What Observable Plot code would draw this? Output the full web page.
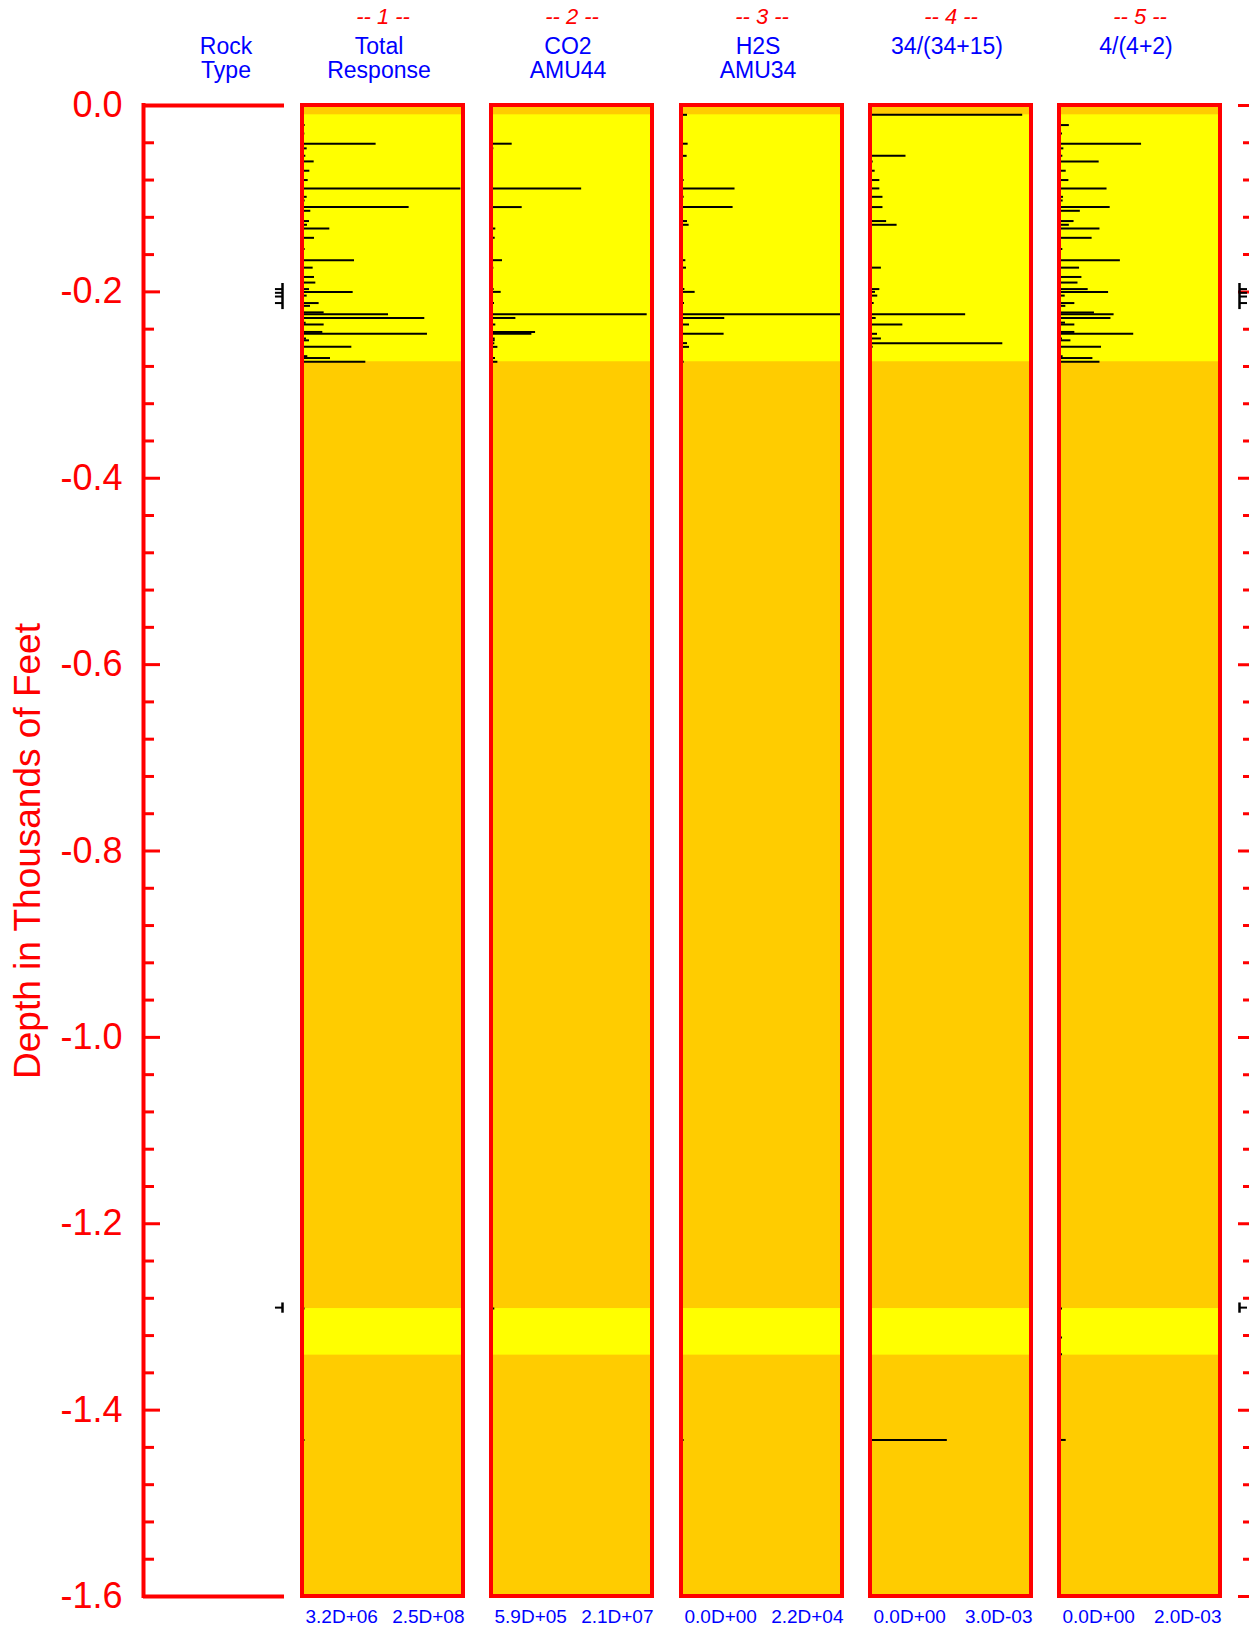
<!DOCTYPE html>
<html><head><meta charset="utf-8">
<script src="https://cdn.jsdelivr.net/npm/d3@7"></script>
<script src="https://cdn.jsdelivr.net/npm/@observablehq/plot@0.6"></script>
<style>
body{margin:0;background:#fff;overflow:hidden}
#chart{position:relative;width:1249px;height:1629px;overflow:hidden;font-family:"Liberation Sans",Arial,sans-serif}
#chart svg{position:absolute;top:0;overflow:visible}
</style></head><body><div id="chart"></div>
<script>
// ---- data ----
const depthFt = [10,21,30,41,46,54,60,70,80,89,98,102,109,113,124,128,132,142,154,166,174,184,190,197,200,204,212,215,222,224,228,233,235,243,245,250,252,255,259,269,271,275,1291,1322,1340,1432];

const totalResponse = [null,4.2e6,3.7e6,1.158e8,7.4e6,5.3e6,1.84e7,1.16e7,9.0e6,2.49e8,7.4e6,4.2e6,1.677e8,1.31e7,1.11e7,7.9e6,4.3e7,1.89e7,4.2e6,8.18e7,1.68e7,1.89e7,2.1e7,1.11e7,7.97e7,7.4e6,2.62e7,1.26e7,3.41e7,1.353e8,1.923e8,5.8e6,3.41e7,3.2e7,1.965e8,6.3e6,1.11e7,null,7.76e7,8.4e6,4.41e7,9.96e7,4.0e6,null,null,4.0e6];
const co2Amu44 = [null,null,null,3.02e6,6.3e5,null,null,null,null,1.205e7,null,null,4.32e6,null,null,null,8.9e5,8.1e5,null,1.76e6,6.3e5,null,null,6.7e5,1.59e6,null,7.2e5,null,null,2.057e7,3.50e6,null,8.9e5,6.06e6,5.58e6,8.1e5,8.1e5,7.6e5,1.16e6,null,8.5e5,1.16e6,7.6e5,null,null,null];
const h2sAmu34 = [560,null,null,650,null,510,null,null,90,7220,90,null,6950,null,560,790,null,null,null,330,420,null,null,190,1630,null,140,null,null,22000,5780,null,840,null,5690,null,null,560,840,null,null,90,null,null,null,90];
const ratio34 = [2.87e-3,null,null,null,null,6.4e-4,1.3e-5,5.1e-5,1.4e-4,1.4e-4,2.0e-4,null,2.0e-4,null,2.7e-4,4.7e-4,null,null,null,null,1.7e-4,null,null,1.4e-4,5.7e-5,1.0e-4,3.2e-5,null,null,1.78e-3,7.0e-5,null,5.8e-4,null,9.6e-5,1.7e-4,null,2.49e-3,1.3e-5,null,null,null,null,null,null,1.43e-3];
const ratio4 = [null,1.0e-4,1.3e-5,1.02e-3,3.0e-5,1.7e-5,4.8e-4,6.0e-5,9.4e-5,5.8e-4,2.6e-5,2.1e-5,6.2e-4,2.4e-4,1.6e-4,1.0e-4,4.9e-4,3.9e-4,1.7e-5,7.5e-4,2.3e-4,2.6e-4,2.1e-4,3.4e-4,6.0e-4,4.7e-5,1.7e-4,5.5e-5,4.2e-4,6.7e-4,6.3e-4,5.1e-5,1.7e-4,1.7e-4,9.2e-4,1.3e-5,1.2e-4,null,5.1e-4,2.1e-5,4.0e-4,4.9e-4,1.3e-5,1.3e-5,1.3e-5,6.0e-5];

const trackNumbers = ["1","2","3","4","5"];
const trackLine1 = ["Total","CO2","H2S","34/(34+15)","4/(4+2)"];
const trackLine2 = ["Response","AMU44","AMU34","",""];
const trackMin = [3.2e6, 5.9e5, 0, 0, 0];
const trackMax = [2.5e8, 2.1e7, 2.2e4, 3.0e-3, 2.0e-3];
const minLabels = ["3.2D+06","5.9D+05","0.0D+00","0.0D+00","0.0D+00"];
const maxLabels = ["2.5D+08","2.1D+07","2.2D+04","3.0D-03","2.0D-03"];
const trackValues = [totalResponse, co2Amu44, h2sAmu34, ratio34, ratio4];

// lithology zones (ft): light (yellow) intervals inside orange background
const zoneTopFt = [10, 1291];
const zoneBottomFt = [275, 1341];
// rock type markers (ft)
const rockTickFt = [197, 201, 205, 212, 1290];
const rockSpanTopFt = [191, 1285];
const rockSpanBottomFt = [219, 1296];

const majorTicks = [0,-0.2,-0.4,-0.6,-0.8,-1.0,-1.2,-1.4,-1.6];
const depthTickLabels = ["0.0","-0.2","-0.4","-0.6","-0.8","-1.0","-1.2","-1.4","-1.6"];
const minorTicks = d3.range(0, 41).filter(i => i % 5 !== 0).map(i => -i * 0.04);

// ---- layout ----
const RED = "#ff0000", BLUE = "#0000ff", ORANGE = "#ffcc00", YELLOW = "#ffff00";
const H = 1629, MT = 105, MB = 33;
const FONT = '"Liberation Sans", Arial, sans-serif';
const yOpt = {domain: [-1.6, 0], axis: null};
const toY = ft => -ft / 1000;
const chart = document.getElementById("chart");
function place(svg, left) { svg.style.left = left + "px"; chart.appendChild(svg); }

// left depth axis + rock type column
const leftPlot = Plot.plot({
  width: 300, height: H, marginLeft: 143, marginRight: 16, marginTop: MT, marginBottom: MB,
  style: {fontFamily: FONT, background: "transparent", overflow: "visible"},
  x: {domain: [0, 1], axis: null}, y: yOpt,
  marks: [
    Plot.tickY(minorTicks, {y: d => d, stroke: RED, strokeWidth: 3, insetRight: 141 - 11}),
    Plot.tickY(majorTicks, {y: d => d, stroke: RED, strokeWidth: 3, insetRight: 141 - 17}),
    Plot.ruleY([0, -1.6], {x1: 0, x2: 1, stroke: RED, strokeWidth: 4}),
    Plot.ruleX([0], {y1: -1.6, y2: 0, stroke: RED, strokeWidth: 4, strokeLinecap: "square"}),
    Plot.text(depthTickLabels, {y: (d, i) => majorTicks[i], text: d => d, frameAnchor: "left", textAnchor: "end", dx: -21, fill: RED, fontSize: 36}),
    Plot.text(["Depth in Thousands of Feet"], {text: d => d, frameAnchor: "left", textAnchor: "middle", rotate: -90, dx: -115, fill: RED, fontSize: 37}),
    Plot.text(["Rock"], {text: d => d, frameAnchor: "top", dx: 12, dy: 46 - MT, lineAnchor: "middle", fill: BLUE, fontSize: 23}),
    Plot.text(["Type"], {text: d => d, frameAnchor: "top", dx: 12, dy: 70 - MT, lineAnchor: "middle", fill: BLUE, fontSize: 23}),
    Plot.ruleX(rockSpanTopFt, {x: 1, y1: d => toY(d), y2: (d, i) => toY(rockSpanBottomFt[i]), dx: -2, stroke: "black", strokeWidth: 2.5}),
    Plot.ruleY(rockTickFt, {y: d => toY(d), x1: 0.95, x2: 1, dx: -2, stroke: "black", strokeWidth: 2})
  ]
});
place(leftPlot, 0);

// five tracks
const innerLeft = [304, 493.3, 682.5, 871.8, 1061];
const innerW = 157, PAD = 20;
trackValues.forEach((vals, k) => {
  const idx = d3.range(depthFt.length).filter(i => vals[i] != null);
  const lo = trackMin[k], hi = trackMax[k];
  const p = Plot.plot({
    width: innerW + 2 * PAD, height: H, marginLeft: PAD, marginRight: PAD, marginTop: MT, marginBottom: MB,
    style: {fontFamily: FONT, background: "transparent", overflow: "visible"},
    x: {domain: [lo, hi], axis: null}, y: yOpt,
    marks: [
      Plot.rect([0], {x1: lo, x2: hi, y1: -1.6, y2: 0, fill: ORANGE, insetLeft: -2, insetRight: -2}),
      Plot.rect(zoneTopFt, {x1: lo, x2: hi, y1: d => toY(d), y2: (d, i) => toY(zoneBottomFt[i]), fill: YELLOW}),
      Plot.ruleY(idx, {y: i => toY(depthFt[i]), x1: lo, x2: i => vals[i], stroke: "black", strokeWidth: 2}),
      Plot.rect([0], {x1: lo, x2: hi, y1: -1.6, y2: 0, fill: "none", stroke: RED, strokeWidth: 4, insetLeft: -2, insetRight: -2}),
      Plot.text([trackNumbers[k]], {text: d => `-- ${d} --`, frameAnchor: "top", dy: 16 - MT, lineAnchor: "middle", fill: RED, fontSize: 22, fontStyle: "italic"}),
      Plot.text([trackLine1[k]], {text: d => d, frameAnchor: "top", dx: -4, dy: 46 - MT, lineAnchor: "middle", fill: BLUE, fontSize: 23}),
      Plot.text([trackLine2[k]], {text: d => d, frameAnchor: "top", dx: -4, dy: 70 - MT, lineAnchor: "middle", fill: BLUE, fontSize: 23}),
      Plot.text([minLabels[k]], {text: d => d, frameAnchor: "bottom-left", textAnchor: "start", lineAnchor: "middle", dx: 1, dy: 20, fill: BLUE, fontSize: 19}),
      Plot.text([maxLabels[k]], {text: d => d, frameAnchor: "bottom-right", textAnchor: "end", lineAnchor: "middle", dx: 3, dy: 20, fill: BLUE, fontSize: 19})
    ]
  });
  place(p, innerLeft[k] - PAD);
});

// right depth ticks (axis line beyond the right edge)
const rightPlot = Plot.plot({
  width: 70, height: H, marginLeft: 8, marginRight: 10, marginTop: MT, marginBottom: MB,
  style: {fontFamily: FONT, background: "transparent", overflow: "visible"},
  x: {domain: [0, 1], axis: null}, y: yOpt,
  marks: [
    Plot.ruleY(majorTicks, {y: d => d, x1: 0, x2: 1, stroke: RED, strokeWidth: 3}),
    Plot.ruleY(minorTicks, {y: d => d, x1: 5 / 52, x2: 1, stroke: RED, strokeWidth: 3}),
    Plot.ruleX(rockSpanTopFt, {x: 0, y1: d => toY(d), y2: (d, i) => toY(rockSpanBottomFt[i]), dx: 1, stroke: "black", strokeWidth: 2.5}),
    Plot.ruleY(rockTickFt, {y: d => toY(d), x1: 0, x2: 8 / 52, dx: 1, stroke: "black", strokeWidth: 2})
  ]
});
place(rightPlot, 1230);
</script></body></html>
